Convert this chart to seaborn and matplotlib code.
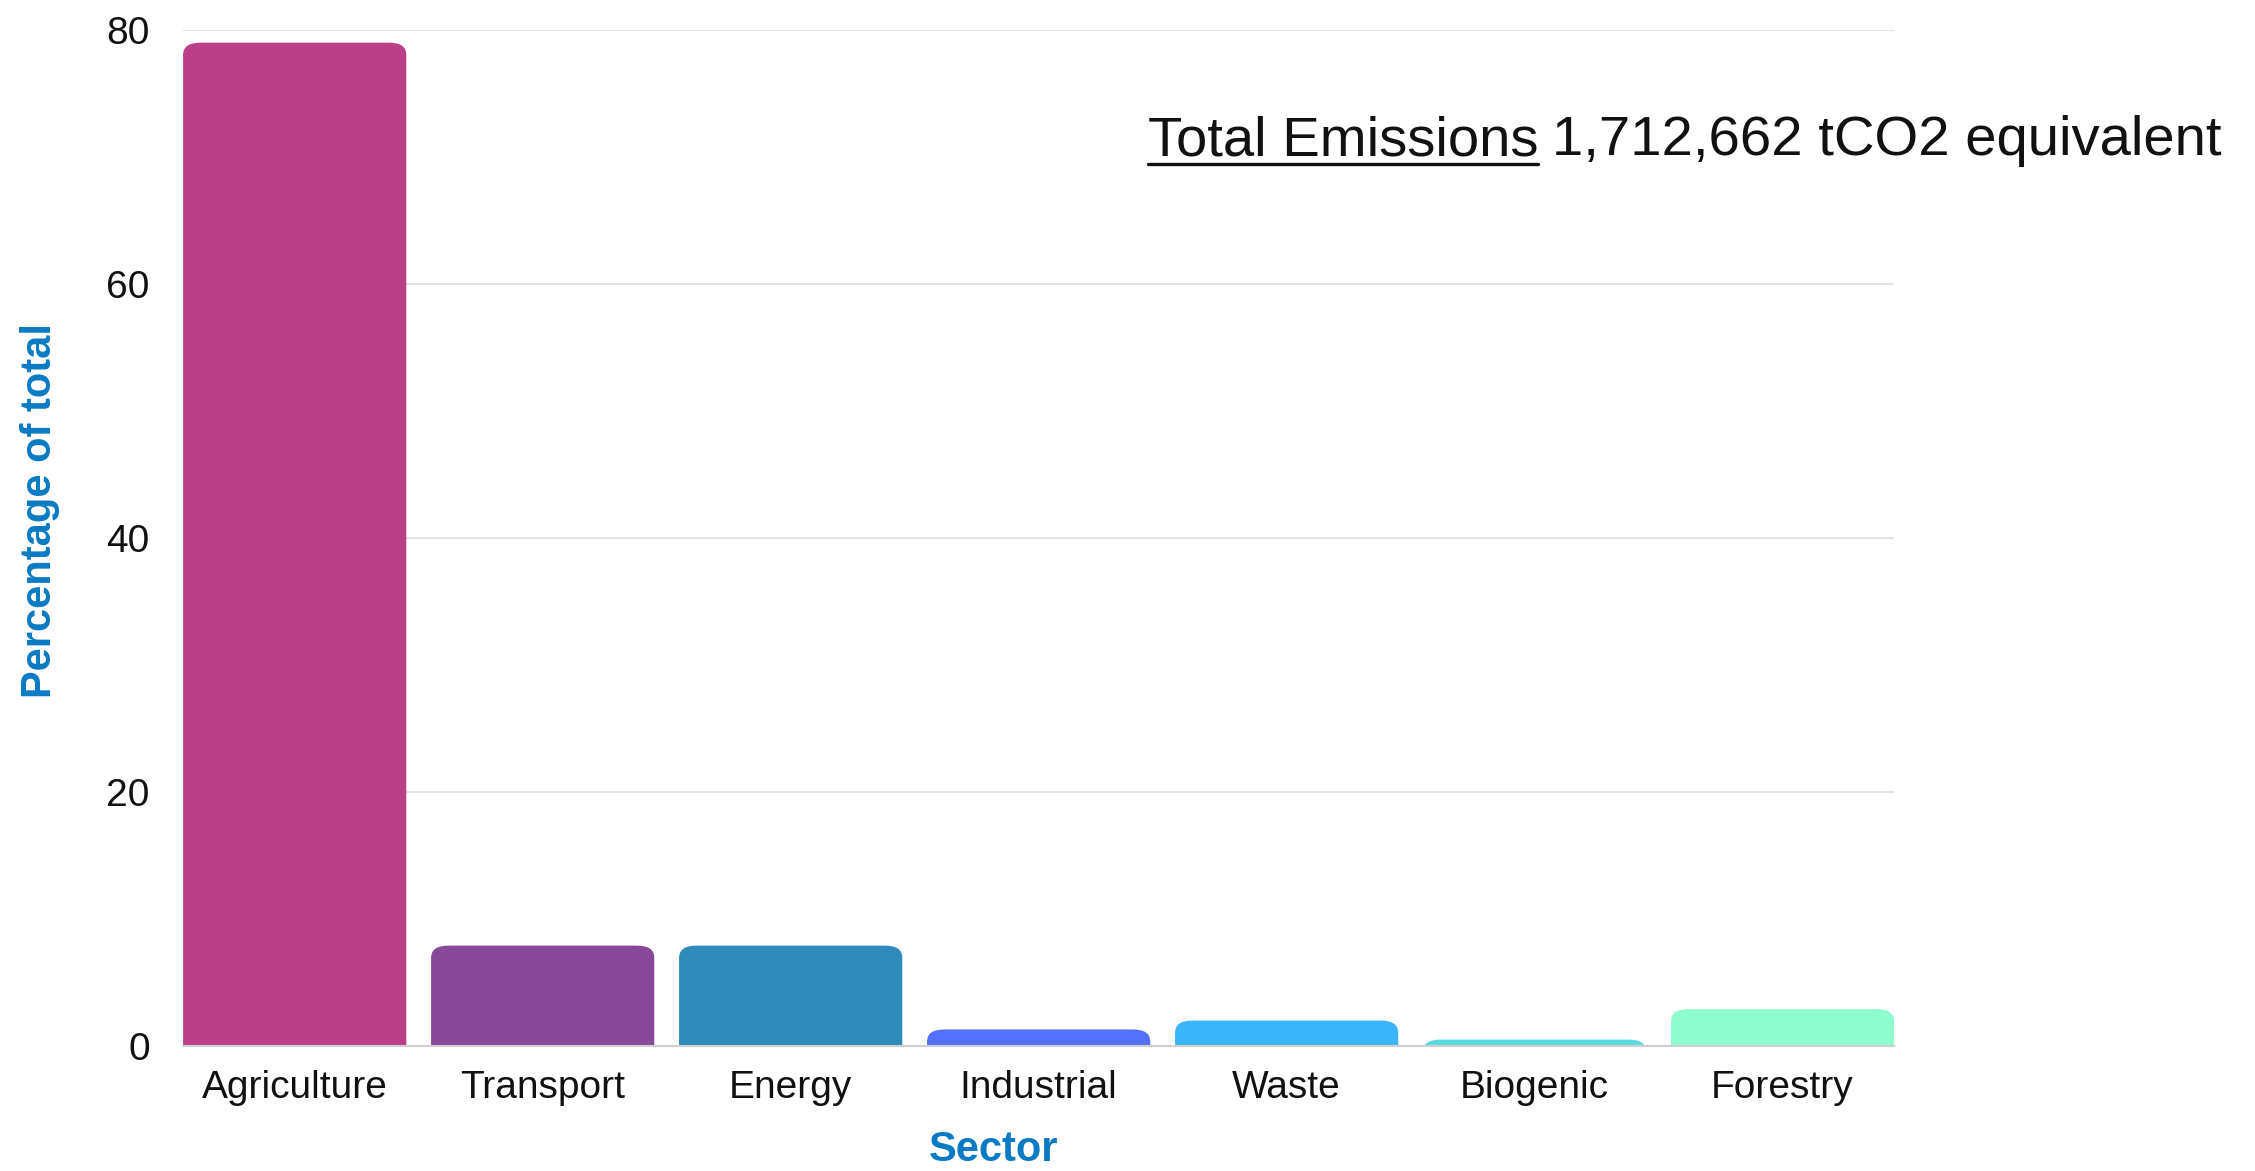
import pandas as pd
import seaborn as sns
import matplotlib.pyplot as plt
from matplotlib.patches import FancyBboxPatch
from matplotlib.lines import Line2D

# Data
sectors = ["Agriculture", "Transport", "Energy", "Industrial", "Waste", "Biogenic", "Forestry"]
share = [79.0, 7.9, 7.9, 1.3, 2.0, 0.5, 2.9]
colors = ["#BA3F88", "#87489A", "#2E8BBA", "#5470FF", "#3BB5FA", "#5ADADF", "#8FFDD0"]
total_label = "1,712,662 tCO2 equivalent"

df = pd.DataFrame({"Sector": sectors, "Share": share})

sns.set_style("white")
plt.rcParams["font.family"] = ["Liberation Sans", "DejaVu Sans"]

fig = plt.figure(figsize=(22.55, 11.71), dpi=100)
ax = fig.add_axes([0.0812, 0.1068, 0.7588, 0.8676])

sns.barplot(data=df, x="Sector", y="Share", hue="Sector", palette=colors,
            width=0.9, legend=False, ax=ax, saturation=1)

# swap the plain bars for ones with rounded tops
r = 0.07
aspect = 13.5
old = list(ax.patches)
for p in old:
    x0, w, h = p.get_x(), p.get_width(), p.get_height()
    fb = FancyBboxPatch((x0, -2 * r * aspect), w, h + 2 * r * aspect,
                        boxstyle=f"round,pad=0,rounding_size={r}",
                        mutation_aspect=aspect,
                        facecolor=p.get_facecolor(), edgecolor="none")
    ax.add_patch(fb)
    p.remove()

ax.set_ylim(0, 80)
ax.set_xlim(-0.45, 6.45)
ax.set_yticks([0, 20, 40, 60, 80])
ax.yaxis.grid(True, color="#e3e3e3", lw=1.5)
ax.set_axisbelow(True)
for s in ["left", "right", "top"]:
    ax.spines[s].set_visible(False)
ax.spines["bottom"].set_color("#d0d0d0")
ax.spines["bottom"].set_linewidth(1.5)
ax.tick_params(axis="y", length=0, pad=24, labelsize=28, labelcolor="#111111")
ax.tick_params(axis="x", length=0, pad=17, labelsize=28, labelcolor="#111111")
ax.set_xlabel("")
ax.set_ylabel("")

label_kw = dict(color="#0A7AC4", fontsize=30, fontweight="bold")
fig.text(994 / 2255, 1 - 1150 / 1171, "Sector", ha="center", va="center", **label_kw)
fig.text(40 / 2255, 1 - 510 / 1171, "Percentage of total", ha="center", va="center",
         rotation=90, **label_kw)

# total emissions note, first part underlined
t1 = fig.text(1148 / 2255, 1 - 141 / 1171, "Total Emissions", ha="left", va="center",
              fontsize=40.5, color="#111111")
fig.canvas.draw()
bb = t1.get_window_extent().transformed(fig.transFigure.inverted())
fig.text(bb.x1 + 14 / 2255, 1 - 141 / 1171, total_label, ha="left", va="center",
         fontsize=40.5, color="#111111")
uy = 1 - 164 / 1171
fig.add_artist(Line2D([bb.x0, bb.x1], [uy, uy], color="#111111", lw=2.4,
                      transform=fig.transFigure))

fig.savefig("out.png", dpi=100)
